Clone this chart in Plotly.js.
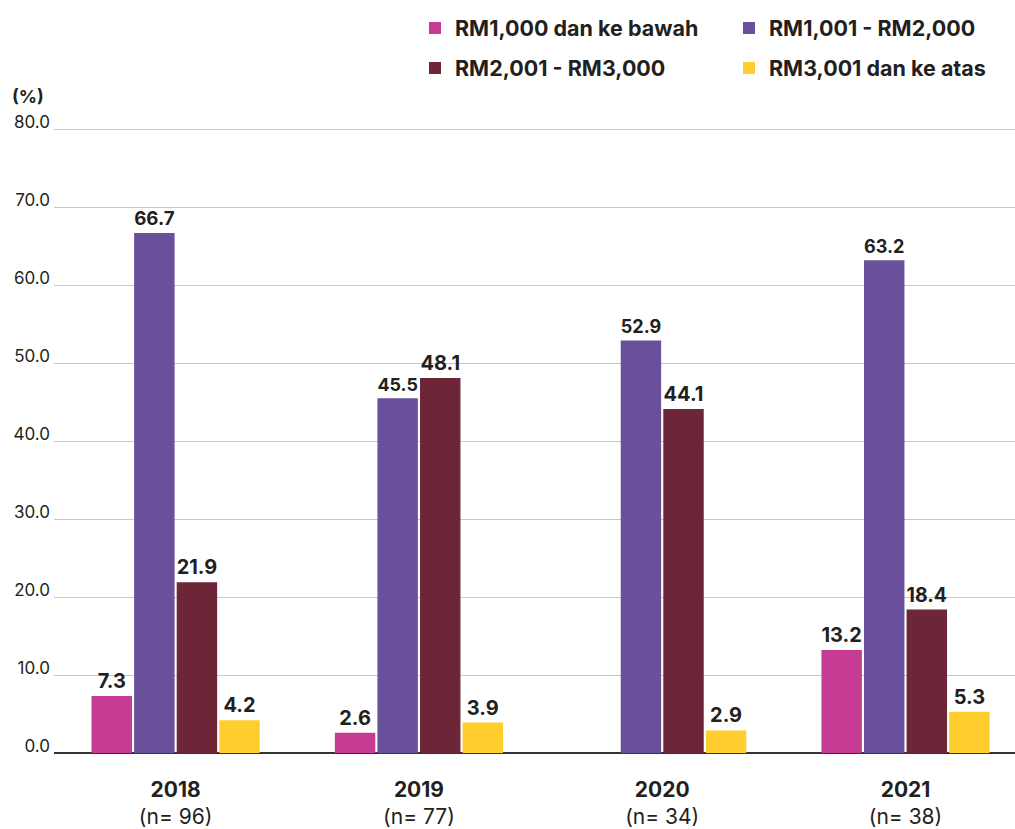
<!DOCTYPE html>
<html><head><meta charset="utf-8">
<script src="https://cdn.plot.ly/plotly-3.0.1.min.js"></script>
<style>html,body{margin:0;padding:0;background:#fff}#chart{width:1015px;height:829px}</style>
</head><body><div id="chart"></div>
<script>
const years = ['2018','2019','2020','2021'];
const sampleSizes = ['96','77','34','38'];
const seriesNames = ['RM1,000 dan ke bawah','RM1,001 - RM2,000','RM2,001 - RM3,000','RM3,001 dan ke atas'];
const below1000 = [7.3, 2.6, null, 13.2];
const rm1001to2000 = [66.7, 45.5, 52.9, 63.2];
const rm2001to3000 = [21.9, 48.1, 44.1, 18.4];
const above3001 = [4.2, 3.9, 2.9, 5.3];
const yTicks = [0,10,20,30,40,50,60,70,80];

const colors = ['#C63C94','#68519A','#6D2637','#FFCD2E'];
const values = [below1000, rm1001to2000, rm2001to3000, above3001];
const FONT = 'Inter, "Open Sans", sans-serif';
const tickText = years.map((y,i)=>'<b>'+y+'</b><br>(n= '+sampleSizes[i]+')');
const legendIds = ['legend','legend2','legend3','legend4'];
// legend placement (px in the 1015x829 page): [left, centre y]
const legendPos = [[415,28],[729,28],[415,68],[729,68]];

const traces = values.map((v,i)=>({
  type:'bar', name:seriesNames[i], x:years, y:v,
  legend:legendIds[i],
  marker:{color:colors[i]},
  text:v.map(d=>d==null?'':d.toFixed(1)),
  texttemplate:'<b>%{text}</b>',
  textposition:'outside', cliponaxis:false,
  textfont:{family:FONT,size:20,color:'#231f20'},
  hoverinfo:'skip'
}));

const layout = {
  width:1015, height:829,
  margin:{l:54,r:0,t:128,b:76},
  paper_bgcolor:'#fff', plot_bgcolor:'#fff',
  font:{family:FONT,color:'#231f20'},
  barmode:'group', bargap:0.3, bargroupgap:0.05,
  showlegend:true,
  xaxis:{type:'category', range:[-0.5,3.45], tickmode:'array', tickvals:years, ticktext:tickText,
    tickfont:{family:FONT,size:21,color:'#231f20'}, showgrid:false, showline:false, ticks:'', zeroline:false,
    ticklabelstandoff:22},
  yaxis:{range:[0,80.15], tickmode:'array', tickvals:yTicks, ticktext:yTicks.map(t=>t.toFixed(1)),
    tickfont:{family:FONT,size:17,color:'#231f20'}, showgrid:true, gridcolor:'#c8c8c8', gridwidth:1,
    zeroline:true, zerolinecolor:'#333', zerolinewidth:1.5, ticks:'', ticklabelstandoff:3, ticklabelshift:-7, fixedrange:true},
  annotations:[{text:'<b>(%)</b>', xref:'paper', yref:'paper', x:-0.027, y:1.05, xanchor:'center', yanchor:'middle',
    showarrow:false, font:{family:FONT,size:18,color:'#231f20'}}]
};
legendIds.forEach((id,i)=>{
  layout[id] = {orientation:'h', xref:'container', yref:'container',
    x:legendPos[i][0]/1015, xanchor:'left', y:1-legendPos[i][1]/829, yanchor:'middle',
    font:{family:FONT,size:21.5,color:'#231f20',weight:'bold'}, bgcolor:'rgba(0,0,0,0)'};
});
Plotly.newPlot('chart', traces, layout, {displayModeBar:false, staticPlot:true});
</script></body></html>
